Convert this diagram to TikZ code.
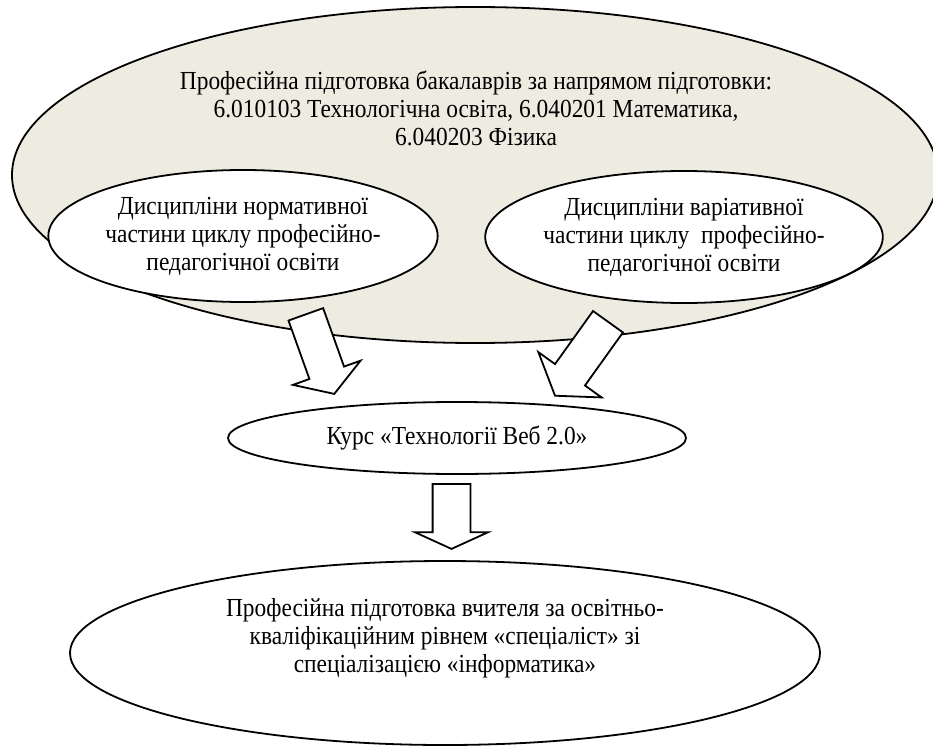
\documentclass[tikz,border=0pt]{standalone}
\usepackage{fontspec}
\setmainfont{Liberation Serif}[FakeStretch=0.9]
\usepackage{tikz}
\usetikzlibrary{shapes.geometric}
\usetikzlibrary{shapes.arrows}
\definecolor{tanbg}{RGB}{238,236,225}
\tikzset{oval/.style={shape=ellipse, draw=black, fill=white, line width=1.8pt, inner sep=0pt, align=center}}
\tikzset{fatarrow/.style={shape=single arrow, draw=black, fill=white, line width=1.8pt, inner xsep=0pt, inner ysep=17.5pt,
    single arrow head extend=17.5pt, single arrow head indent=0pt, anchor=tail}}

\begin{document}
\begin{tikzpicture}[x=1pt, y=-1pt, font=\fontsize{26}{28}\selectfont]

                \useasboundingbox (0,0) rectangle (933,746);

                \node[oval, fill=tanbg, minimum width=926, minimum height=336] (bach) at (475,175) {};
                \node[align=center] (bachtxt) at (476,108) {Професійна підготовка бакалаврів за напрямом підготовки:\\ 6.010103 Технологічна освіта, 6.040201 Математика,\\ 6.040203 Фізика};
                \node[oval, minimum width=350, minimum height=132] (norm) at (243,236) {Дисципліни нормативної\\ частини циклу професійно-\\ педагогічної освіти};
                \node[oval, minimum width=394, minimum height=132] (var) at (684,237) {Дисципліни варіативної\\ частини циклу\ \ професійно-\\ педагогічної освіти};

                \node[fatarrow, minimum height=84.5, single arrow tip angle=116, rotate=-70.3] (arrnorm) at (305.5,313.5) {};
                \node[fatarrow, minimum height=91, single arrow head extend=20.5pt, single arrow tip angle=113, rotate=-125.6] (arrvar) at (608.5,321) {};

                \node[oval, minimum width=458, minimum height=72] (kurs) at (457,438) {Курс «Технології Веб 2.0»};
                \node[fatarrow, minimum height=65, inner ysep=18pt, single arrow tip angle=131, rotate=-90] (arrkurs) at (451.5,483) {};

                \node[oval, minimum width=750, minimum height=184] (spec) at (445,653) {};
                \node[align=center] (spectxt) at (445,638) {Професійна підготовка вчителя за освітньо-\\ кваліфікаційним рівнем «спеціаліст» зі\\ спеціалізацією «інформатика»};

\end{tikzpicture}
\end{document}
